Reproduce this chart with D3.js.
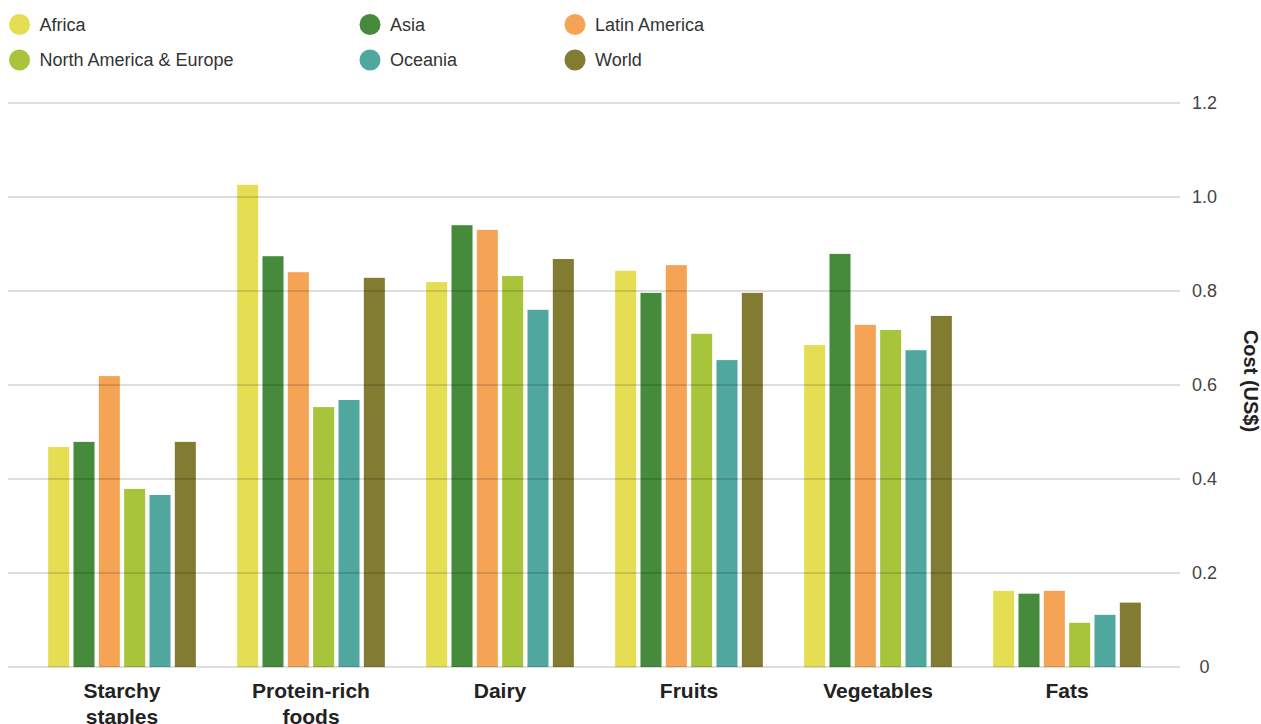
<!DOCTYPE html>
<html>
<head>
<meta charset="utf-8">
<script src="https://cdn.jsdelivr.net/npm/d3@7/dist/d3.min.js"></script>
<style>
  html, body { margin: 0; padding: 0; background: #fff; }
  svg { display: block; font-family: "Liberation Sans", Arial, Helvetica, sans-serif; }
</style>
</head>
<body>
<svg id="chart" width="1261" height="724"></svg>
<script>
// Food groups along the x axis
const categories = ["Starchy staples", "Protein-rich foods", "Dairy", "Fruits", "Vegetables", "Fats"];

// Regions (one bar per region inside each food group)
const regions = ["Africa", "Asia", "Latin America", "North America & Europe", "Oceania", "World"];
const regionColors = ["#e5de52", "#468a3b", "#f4a454", "#a8c43b", "#4fa79d", "#827b32"];

// Cost per food group, US$
const africa       = [0.468, 1.026, 0.819, 0.843, 0.685, 0.162];
const asia         = [0.479, 0.874, 0.940, 0.796, 0.879, 0.156];
const latinAmerica = [0.619, 0.840, 0.930, 0.855, 0.728, 0.162];
const northAmEu    = [0.379, 0.553, 0.832, 0.709, 0.717, 0.094];
const oceania      = [0.366, 0.568, 0.760, 0.653, 0.674, 0.111];
const world        = [0.479, 0.828, 0.868, 0.796, 0.747, 0.137];

const yTicks = [0, 0.2, 0.4, 0.6, 0.8, 1.0, 1.2];
const yTickLabels = ["0", "0.2", "0.4", "0.6", "0.8", "1.0", "1.2"];

const seriesValues = [africa, asia, latinAmerica, northAmEu, oceania, world];

const svg = d3.select("#chart");

const plot = { left: 27.5, right: 1161.5, top: 103, bottom: 667 };

const x0 = d3.scaleBand().domain(categories).range([plot.left, plot.right]).padding(0);
const x1 = d3.scaleBand().domain(regions)
  .range([18.5, x0.bandwidth() - 18.5])
  .paddingInner(0.17).paddingOuter(0.085);
const y = d3.scaleLinear().domain([0, 1.2]).range([plot.bottom, plot.top]);
const color = d3.scaleOrdinal().domain(regions).range(regionColors);

// Bars
const groups = svg.append("g").selectAll("g")
  .data(categories)
  .join("g")
  .attr("transform", d => `translate(${x0(d)},0)`);

groups.selectAll("rect")
  .data((c, ci) => regions.map((r, ri) => ({ region: r, value: seriesValues[ri][ci] })))
  .join("rect")
  .attr("x", d => x1(d.region))
  .attr("width", x1.bandwidth())
  .attr("y", d => y(d.value))
  .attr("height", d => y(0) - y(d.value))
  .attr("fill", d => color(d.region));

// Gridlines, drawn over the bars
const yAxis = d3.axisRight(y)
  .tickValues(yTicks)
  .tickSize(0)
  .tickFormat((d, i) => yTickLabels[i]);

const gridG = svg.append("g");
gridG.selectAll("line")
  .data(yTicks)
  .join("line")
  .attr("x1", 8).attr("x2", 1180)
  .attr("y1", d => y(d)).attr("y2", d => y(d))
  .attr("stroke", "#000")
  .attr("stroke-opacity", 0.13)
  .attr("stroke-width", 2);

// Right axis labels
const axisG = svg.append("g")
  .attr("transform", "translate(1204.5,0)")
  .call(yAxis);
axisG.select(".domain").remove();
axisG.selectAll("text")
  .attr("x", 0)
  .attr("dy", "0.33em")
  .attr("text-anchor", "middle")
  .attr("fill", "#444")
  .style("font-size", "18px")
  .style("font-family", "'Liberation Sans', Arial, sans-serif");

// Axis title
svg.append("text")
  .attr("transform", `translate(1244,381) rotate(90)`)
  .attr("text-anchor", "middle")
  .attr("fill", "#222")
  .style("font-size", "20px")
  .style("font-weight", "bold")
  .text("Cost (US$)");

// Category labels (wrapped when too wide)
const catG = svg.append("g");
categories.forEach(c => {
  const cx = x0(c) + x0.bandwidth() / 2;
  const t = catG.append("text")
    .attr("x", cx).attr("y", 698)
    .attr("text-anchor", "middle")
    .attr("fill", "#222")
    .style("font-size", "21px")
    .style("font-weight", "bold")
    .text(c);
  if (t.node().getComputedTextLength() > 140) {
    const words = c.split(" ");
    t.text(null);
    words.forEach((w, i) => {
      t.append("tspan").attr("x", cx).attr("dy", i === 0 ? 0 : 26).text(w);
    });
  }
});

// Legend
const legendPos = [
  [19.5, 24.5], [370, 24.5], [575, 24.5],
  [19.5, 60], [370, 60], [575, 60]
];
const legendOrder = ["Africa", "Asia", "Latin America", "North America & Europe", "Oceania", "World"];
const legend = svg.append("g");
legendOrder.forEach((r, i) => {
  const [lx, ly] = legendPos[i];
  legend.append("circle")
    .attr("cx", lx).attr("cy", ly).attr("r", 10.5)
    .attr("fill", color(r));
  legend.append("text")
    .attr("x", lx + 20).attr("y", ly)
    .attr("dy", "0.35em")
    .attr("fill", "#333")
    .style("font-size", "18px")
    .text(r);
});
</script>
</body>
</html>
